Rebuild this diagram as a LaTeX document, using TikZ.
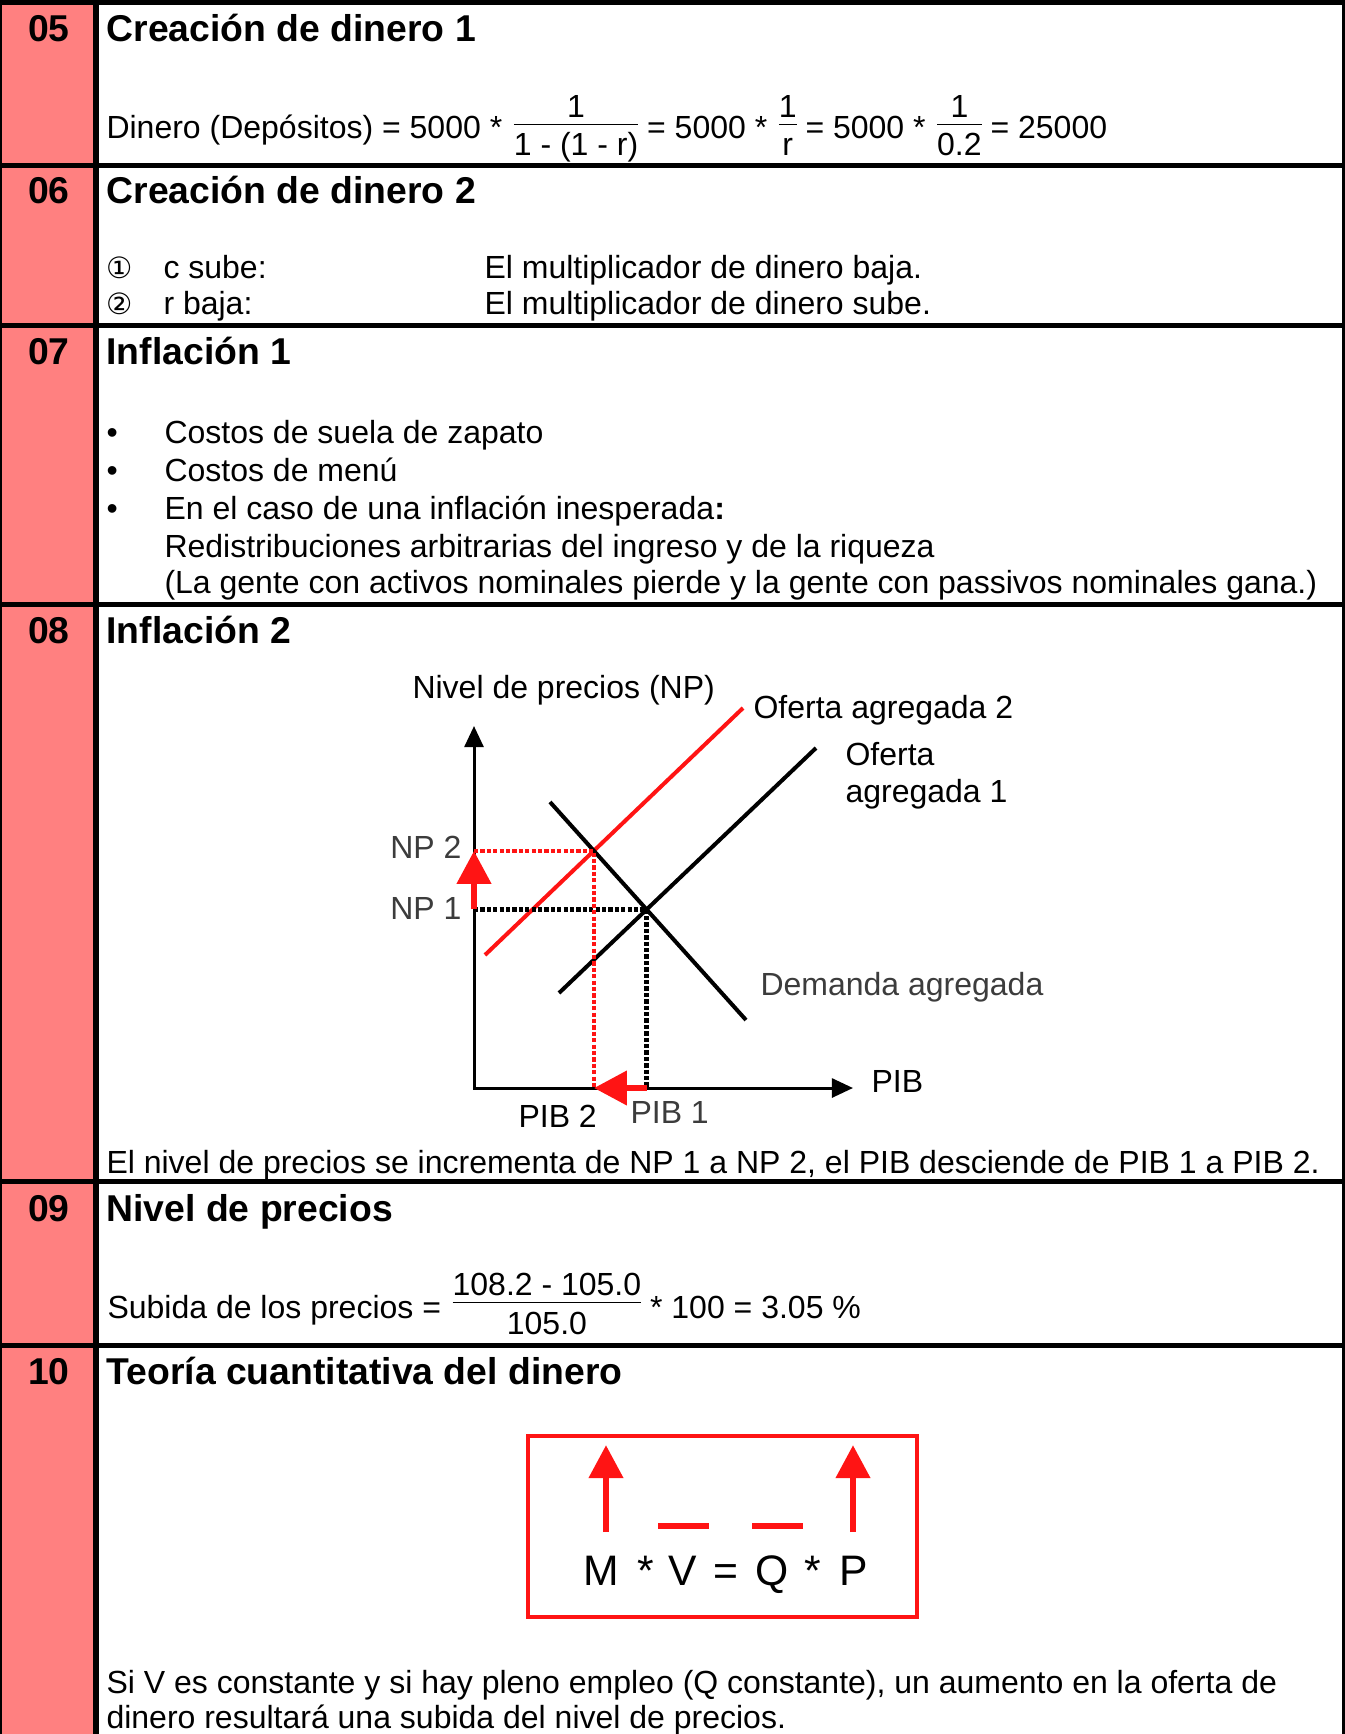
\documentclass[tikz,border=0pt]{standalone}
\usepackage{fontspec}
\setmainfont{Liberation Sans}
\newfontfamily\circfont{DejaVu Sans}
\usetikzlibrary{arrows.meta,intersections}
\definecolor{salmon}{RGB}{255,128,128}
\definecolor{brightred}{RGB}{255,20,20}
\definecolor{labelgray}{RGB}{60,60,60}
\newsavebox\bruchnum
\newsavebox\bruchden
\newlength\bruchwd
\newcommand{\bruch}[3][5.25pt]{%
  \sbox\bruchnum{#2}\sbox\bruchden{#3}%
  \setlength\bruchwd{\wd\bruchnum}%
  \ifdim\wd\bruchden>\bruchwd \setlength\bruchwd{\wd\bruchden}\fi
  \kern1pt\relax
  \rlap{\rule[#1]{\bruchwd}{0.55pt}}%
  \rlap{\hbox to\bruchwd{\hfil\raisebox{\dimexpr#1+2.8pt\relax}{\usebox\bruchnum}\hfil}}%
  \hbox to\bruchwd{\hfil\raisebox{\dimexpr#1-11.6pt\relax}{\usebox\bruchden}\hfil}}
\tikzset{
  numtext/.style={font=\fontsize{14}{16}\selectfont\bfseries, anchor=base, inner sep=0pt},
  titletext/.style={font=\fontsize{14}{16}\selectfont\bfseries, anchor=base west, inner sep=0pt},
  bodytext/.style={font=\fontsize{12}{14}\selectfont, anchor=base west, inner sep=0pt},
  circtext/.style={font=\circfont\fontsize{11}{14}\selectfont, anchor=base west, inner sep=0pt},
  faintlabel/.style={bodytext, text=labelgray},
  eqtext/.style={font=\fontsize{16}{18}\selectfont, anchor=base, inner sep=0pt},
  rowrule/.style={line width=2.06pt},
  axis/.style={line width=1.125pt, {Triangle[length=7.9pt,width=7.1pt]}-{Triangle[length=7.9pt,width=7.1pt]}},
  curve/.style={line width=1.5pt},
  blackdot/.style={line width=1.6pt, dash pattern=on 1.6pt off 0.8pt},
  reddot/.style={blackdot, brightred},
  fatarrow/.style={brightred, line width=2.6pt, -{Triangle[length=12.4pt,width=12.4pt]}},
  dashbar/.style={brightred, line width=2.6pt}
}
\begin{document}
\begin{tikzpicture}[x=0.375pt,y=-0.375pt]
  \useasboundingbox (0,0) rectangle (1345,1734);
  \fill[salmon] (0,0) rectangle (96,1734);
  \draw[line width=0.9pt] (1.2,0) -- (1.2,1734);
  \draw[line width=2.25pt] (96,0) -- (96,1734);
  \draw[line width=1.1pt] (1343.5,0) -- (1343.5,1734);
  \fill (0,0) rectangle (1345,5.5);
  \foreach \y in {165.5,325.5,604.5,1181.5,1345.5}
    \draw[rowrule] (0,\y) -- (1345,\y);

  \foreach \n/\yb/\ttl in {05/42/Creación de dinero 1,06/204/Creación de dinero 2,07/364/Inflación 1,08/643/Inflación 2,09/1221/Nivel de precios,10/1384/Teoría cuantitativa del dinero}{
    \node[numtext] (num\n) at (49,\yb) {\n};
    \node[titletext] (title\n) at (106,\yb) {\ttl};
  }

  \node[bodytext] (money1) at (106,139) {Dinero (Depósitos) = 5000 * \bruch{1}{1 - (1 - r)} = 5000 * \bruch{1}{r} = 5000 * \bruch{1}{0.2} = 25000};

  \node[circtext] (item1) at (106,279) {①};
  \node[bodytext] (cup) at (163,279) {c sube:};
  \node[bodytext] (cres1) at (484,279) {El multiplicador de dinero baja.};
  \node[circtext] (item2) at (106,314) {②};
  \node[bodytext] (rdown) at (163,314) {r baja:};
  \node[bodytext] (cres2) at (484,314) {El multiplicador de dinero sube.};

  \foreach \yb [count=\i] in {443,481,519}
    \node[bodytext] (bullet\i) at (106,\yb) {\textbullet};
  \node[bodytext] (cost1) at (164,443) {Costos de suela de zapato};
  \node[bodytext] (cost2) at (164,481) {Costos de menú};
  \node[bodytext] (cost3) at (164,519) {En el caso de una inflación inesperada\textbf{:}};
  \node[bodytext] (cost3a) at (164,557) {Redistribuciones arbitrarias del ingreso y de la riqueza};
  \node[bodytext] (cost3b) at (164,593) {(La gente con activos nominales pierde y la gente con passivos nominales gana.)};

  \coordinate (O) at (474,1088);
  \coordinate (ytip) at (474,726);
  \coordinate (xtip) at (853,1088);
  \draw[curve, brightred, name path=oa2] (485,955) -- (743,708);
  \draw[curve, name path=oa1] (559,993) -- (816,748);
  \draw[curve, name path=da] (550,802) -- (746,1020);
  \draw[axis] (ytip) -- (O) -- (xtip);
  \path[name intersections={of=oa1 and da, by=E1}];
  \path[name intersections={of=oa2 and da, by=E2}];
  \draw[blackdot] (O |- E1) -- (E1) -- (E1 |- O);
  \draw[reddot] (O |- E2) -- (E2) -- (E2 |- O);
  \draw[fatarrow] (O |- E1) -- (O |- E2);
  \draw[fatarrow] (E1 |- O) -- (E2 |- O);
  \node[bodytext] (ylabel) at (412,698) {Nivel de precios (NP)};
  \node[bodytext] (oa2label) at (753,718) {Oferta agregada 2};
  \node[bodytext] (oa1label) at (845,765) {Oferta};
  \node[bodytext] (oa1label2) at (845,802) {agregada 1};
  \node[faintlabel, anchor=base east] (np2) at (462,858) {NP 2};
  \node[faintlabel, anchor=base east] (np1) at (462,919) {NP 1};
  \node[faintlabel] (dalabel) at (760,995) {Demanda agregada};
  \node[bodytext] (xlabel) at (871,1092) {PIB};
  \node[bodytext] (pib2) at (518,1127) {PIB 2};
  \node[faintlabel] (pib1) at (630,1123) {PIB 1};
  \node[bodytext] (np-result) at (106,1173) {El nivel de precios se incrementa de NP 1 a NP 2, el PIB desciende de PIB 1 a PIB 2.};

  \node[bodytext] (rise) at (107,1318) {Subida de los precios = \bruch[5.5pt]{108.2 - 105.0}{105.0} * 100 = 3.05 \%};

  \draw[brightred, line width=1.25pt] (528,1436) rectangle (917,1617);
  \foreach \x/\s [count=\i] in {601/M,646/*,683/V,726/=,772/Q,813/*,854/P}
    \node[eqtext] (eq\i) at (\x,1585) {\s};
  \coordinate (mtail) at (606,1532);
  \coordinate (mtip) at (606,1445);
  \coordinate (ptail) at (853,1532);
  \coordinate (ptip) at (853,1445);
  \draw[fatarrow] (mtail) -- (mtip);
  \draw[fatarrow] (ptail) -- (ptip);
  \draw[dashbar] (658,1526) -- (709,1526);
  \draw[dashbar] (752,1526) -- (803,1526);
  \node[bodytext] (concl10) at (106,1693) {Si V es constante y si hay pleno empleo (Q constante), un aumento en la oferta de};
  \node[bodytext] (concl10b) at (106,1728) {dinero resultará una subida del nivel de precios.};
\end{tikzpicture}
\end{document}
